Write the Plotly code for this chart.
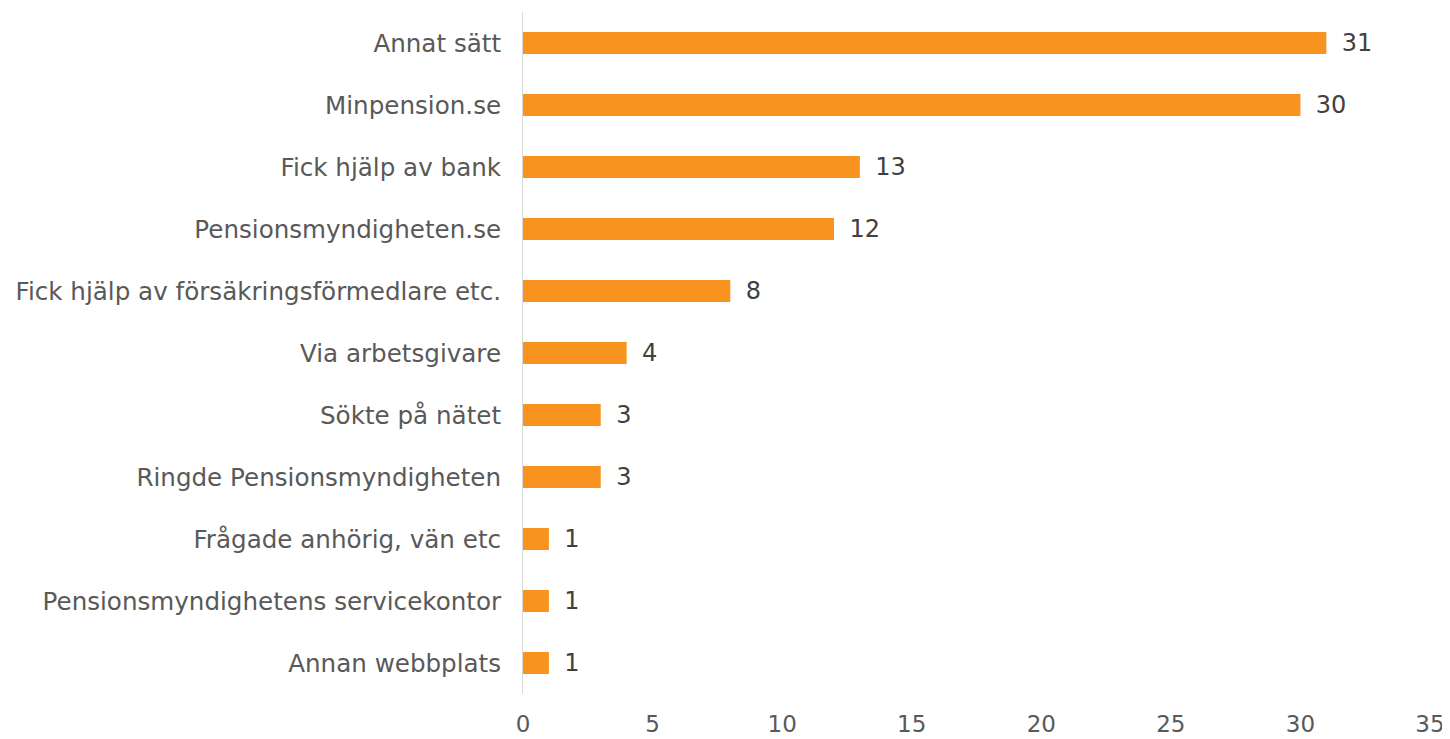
import plotly.graph_objects as go

categories = [
    "Annat sätt",
    "Minpension.se",
    "Fick hjälp av bank",
    "Pensionsmyndigheten.se",
    "Fick hjälp av försäkringsförmedlare etc.",
    "Via arbetsgivare",
    "Sökte på nätet",
    "Ringde Pensionsmyndigheten",
    "Frågade anhörig, vän etc",
    "Pensionsmyndighetens servicekontor",
    "Annan webbplats",
]
values = [31, 30, 13, 12, 8, 4, 3, 3, 1, 1, 1]
x_ticks = [0, 5, 10, 15, 20, 25, 30, 35]

fig = go.Figure(
    go.Bar(
        x=values,
        y=categories,
        orientation="h",
        marker=dict(color="#F7931E", line=dict(width=0)),
        text=values,
        texttemplate=" \u2009%{x}",
        textposition="outside",
        constraintext="none",
        textfont=dict(color="#404040", size=24),
        cliponaxis=False,
        hoverinfo="skip",
    )
)

# page body adds an 8px offset, so the figure is sized to fit the window
fig.update_layout(
    width=1442,
    height=731,
    margin=dict(l=515, r=20, t=4, b=45, autoexpand=False),
    paper_bgcolor="white",
    plot_bgcolor="white",
    font=dict(family="DejaVu Sans, Verdana, sans-serif", size=24.6, color="#595959"),
    bargap=0.645,
    showlegend=False,
)
fig.update_yaxes(
    autorange="reversed",
    automargin=False,
    showline=True,
    linecolor="#D9D9D9",
    linewidth=1,
    showgrid=False,
    zeroline=False,
    ticks="",
    ticklabelstandoff=16,
)
fig.update_xaxes(
    range=[0, 35],
    automargin=False,
    tickvals=x_ticks,
    tickfont=dict(size=23),
    showline=False,
    showgrid=False,
    zeroline=False,
    ticks="",
    ticklabelstandoff=14,
)

fig.write_html("out.html")
